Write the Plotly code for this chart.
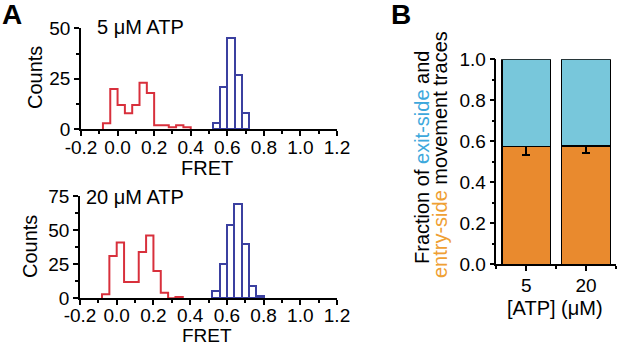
import plotly.graph_objects as go

# ---------------- data ----------------
BIN_WIDTH = 0.04

top_red_left = [-0.08, -0.04, 0.00, 0.04, 0.08, 0.12, 0.16, 0.20, 0.24, 0.28, 0.32, 0.36]
top_red_counts = [3, 20, 12, 8, 12, 23, 18, 2, 2, 1, 2, 1]
top_blue_left = [0.52, 0.56, 0.60, 0.64, 0.68]
top_blue_counts = [3, 21, 45, 27, 8]

bot_red_left = [-0.08, -0.04, 0.00, 0.04, 0.08, 0.12, 0.16, 0.20, 0.24, 0.28, 0.32]
bot_red_counts = [3, 31, 41, 12, 12, 34, 46, 20, 4, 0, 1]
bot_blue_left = [0.52, 0.56, 0.60, 0.64, 0.68, 0.72, 0.76]
bot_blue_counts = [5, 25, 54, 69, 40, 9, 2]

fret_ticks = [-0.2, 0.0, 0.2, 0.4, 0.6, 0.8, 1.0, 1.2]
fret_tick_text = ["-0.2", "0.0", "0.2", "0.4", "0.6", "0.8", "1.0", "1.2"]

atp_labels = ["5", "20"]
entry_frac = [0.575, 0.578]
entry_err = [0.043, 0.036]
exit_frac = [1 - v for v in entry_frac]

# ---------------- style ----------------
FONT = "Liberation Sans, Arial, sans-serif"
RED = "#D8303C"
BLUE = "#3B40A0"
ORANGE = "#E98A2E"
LIGHTBLUE = "#78C7DB"
TXT_BLUE = "#3DA8DC"
TXT_ORANGE = "#EFA033"
W, H = 617, 345
TICKF = 19
LABF = 20


def px_x(p):
    return p / W


def px_y(p):
    return (H - p) / H


def step_xy(lefts, counts, width):
    xs = [lefts[0]]
    ys = [0]
    for l, c in zip(lefts, counts):
        xs.append(l)
        ys.append(c)
    xs.append(lefts[-1] + width)
    ys.append(0)
    return xs, ys


fig = go.Figure()

# top histogram
xs, ys = step_xy(top_red_left, top_red_counts, BIN_WIDTH)
fig.add_trace(go.Scatter(x=xs, y=ys, mode="lines", line=dict(color=RED, width=2, shape="hv"),
                         xaxis="x", yaxis="y", showlegend=False, hoverinfo="skip"))
fig.add_trace(go.Bar(x=[l + BIN_WIDTH / 2 for l in top_blue_left], y=top_blue_counts, width=BIN_WIDTH,
                     marker=dict(color="white", line=dict(color=BLUE, width=2)),
                     xaxis="x", yaxis="y", showlegend=False))

# bottom histogram
xs, ys = step_xy(bot_red_left, bot_red_counts, BIN_WIDTH)
fig.add_trace(go.Scatter(x=xs, y=ys, mode="lines", line=dict(color=RED, width=2, shape="hv"),
                         xaxis="x2", yaxis="y2", showlegend=False, hoverinfo="skip"))
fig.add_trace(go.Bar(x=[l + BIN_WIDTH / 2 for l in bot_blue_left], y=bot_blue_counts, width=BIN_WIDTH,
                     marker=dict(color="white", line=dict(color=BLUE, width=2)),
                     xaxis="x2", yaxis="y2", showlegend=False))

# panel B stacked bars
xcat = list(range(len(atp_labels)))
fig.add_trace(go.Bar(x=xcat, y=entry_frac, width=0.82,
                     marker=dict(color=ORANGE, line=dict(color="black", width=1.5)),
                     error_y=dict(type="data", array=entry_err, visible=True, color="black",
                                  thickness=1.5, width=4),
                     xaxis="x3", yaxis="y3", showlegend=False))
fig.add_trace(go.Bar(x=xcat, y=exit_frac, width=0.82,
                     marker=dict(color=LIGHTBLUE, line=dict(color="black", width=1.5)),
                     xaxis="x3", yaxis="y3", showlegend=False))

axis_common = dict(showline=True, linecolor="black", linewidth=1.5, ticks="outside",
                   tickcolor="black", tickwidth=1.5, ticklen=5, showgrid=False, zeroline=False,
                   automargin=False,
                   tickfont=dict(family=FONT, size=TICKF, color="black"), tickangle=0)

fret_axis = dict(axis_common, range=[-0.2, 1.2], tickvals=fret_ticks, ticktext=fret_tick_text,
                 ticklabelstandoff=-5,
                 minor=dict(ticks="outside", dtick=0.1, tick0=-0.2, ticklen=3, tickcolor="black", tickwidth=1.5))

fig.update_layout(
    template="none",
    width=W, height=H, margin=dict(l=0, r=0, t=0, b=0, pad=0), autosize=False,
    paper_bgcolor="white", plot_bgcolor="white", barmode="stack",
    font=dict(family=FONT, color="black"),
    xaxis=dict(fret_axis, domain=[px_x(81), px_x(337)], anchor="y"),
    yaxis=dict(axis_common, domain=[px_y(129.3), px_y(28.3)], range=[0, 50], tickvals=[0, 25, 50],
               minor=dict(ticks="outside", dtick=12.5, ticklen=3, tickcolor="black", tickwidth=1.5),
               anchor="x"),
    xaxis2=dict(fret_axis, domain=[px_x(80), px_x(337)], anchor="y2", ticklabelstandoff=-6),
    yaxis2=dict(axis_common, domain=[px_y(298.3), px_y(196)], range=[0, 75], tickvals=[0, 25, 50, 75],
                minor=dict(ticks="outside", dtick=12.5, ticklen=3, tickcolor="black", tickwidth=1.5),
                anchor="x2"),
    xaxis3=dict(axis_common, domain=[px_x(496.4), px_x(615.8)], range=[-0.5, 1.5],
                tickvals=xcat, ticktext=atp_labels, ticklabelstandoff=-2,
                minor=dict(ticks="outside", dtick=0.5, tick0=-0.5, ticklen=3, tickcolor="black", tickwidth=1.5),
                anchor="y3"),
    yaxis3=dict(axis_common, domain=[px_y(264.3), px_y(59.3)], range=[0, 1.0],
                tickvals=[0, 0.2, 0.4, 0.6, 0.8, 1.0], ticktext=["0.0", "0.2", "0.4", "0.6", "0.8", "1.0"],
                minor=dict(ticks="outside", dtick=0.1, ticklen=3, tickcolor="black", tickwidth=1.5),
                anchor="x3"),
)

ann = []


def add_text(text, x, y, size, angle=0, bold=False, xanchor="center"):
    t = f"<b>{text}</b>" if bold else text
    ann.append(dict(text=t, x=px_x(x), y=px_y(y), xref="paper", yref="paper", showarrow=False,
                    textangle=angle, xanchor=xanchor, yanchor="middle",
                    font=dict(family=FONT, size=size, color="black")))


add_text("A", 12, 14, 28, bold=True)
add_text("B", 401, 14, 28, bold=True)
add_text("5 μM ATP", 140, 27, LABF)
add_text("20 μM ATP", 135, 197, LABF)
add_text("Counts", 35, 78, LABF, angle=-90)
add_text("Counts", 30, 247, LABF, angle=-90)
add_text("FRET", 207, 168, LABF)
add_text("FRET", 207, 335, 19)
add_text("[ATP] (μM)", 555, 308, LABF)
add_text(f"Fraction of <span style='color:{TXT_BLUE}'>exit-side</span> and", 422, 158, LABF, angle=-90)
add_text(f"<span style='color:{TXT_ORANGE}'>entry-side</span> movement traces", 440, 155, LABF, angle=-90)

fig.update_layout(annotations=ann)
fig.write_html("out.html", config={"displayModeBar": False},
               post_script="document.body.style.margin='0';")
